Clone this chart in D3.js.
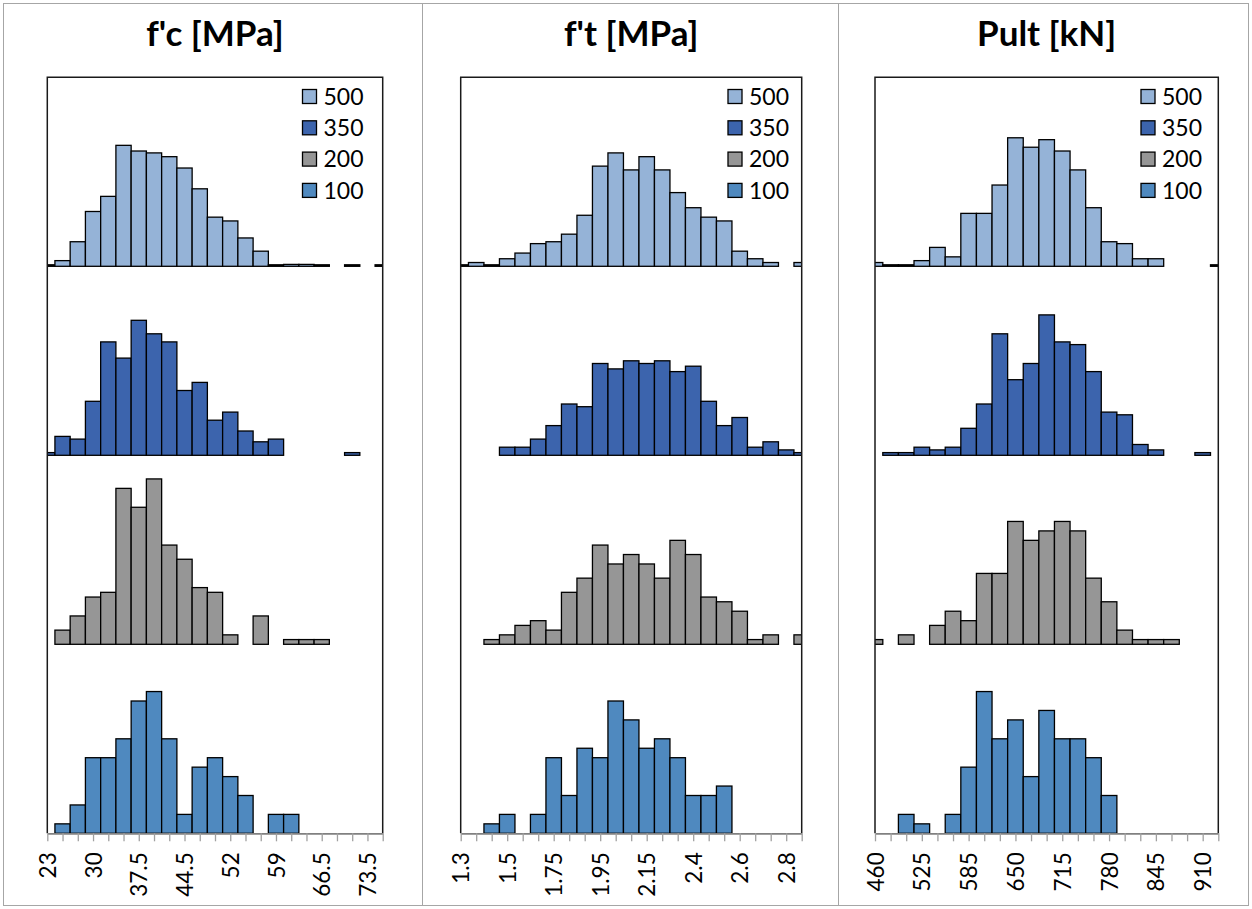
<!DOCTYPE html>
<html>
<head>
<meta charset="utf-8">
<script src="https://cdn.jsdelivr.net/npm/d3@7"></script>
<style>
  html, body { margin: 0; padding: 0; background: #fff; }
  svg { display: block; }
  text { font-family: Lato, "Open Sans", sans-serif; fill: #000; }
</style>
</head>
<body>
<svg id="chart" width="1252" height="909"></svg>
<script>
// Panel titles (one histogram panel per measured property)
const panelTitles = ["f'c [MPa]", "f't [MPa]", "Pult [kN]"];

// Sample sizes of the four simulated series (legend categories, top to bottom)
const sampleSizes = [500, 350, 200, 100];

// Bin labels shown on each x axis (every third bin edge)
const fcTickLabels = ["23", "30", "37.5", "44.5", "52", "59", "66.5", "73.5"];
const ftTickLabels = ["1.3", "1.5", "1.75", "1.95", "2.15", "2.4", "2.6", "2.8"];
const pultTickLabels = ["460", "525", "585", "650", "715", "780", "845", "910"];

// Counts per bin (23 bins, index 0..22); null = empty bin not drawn, 0 = drawn flat
const fc500 = [0, 3, 13, 29, 37, 64, 61, 60, 58, 52, 41, 26, 24, 15, 8, 0, 1, 1, 0, null, 0, null, 0];
const fc350 = [1, 7, 6, 20, 42, 36, 50, 45, 42, 24, 27, 13, 16, 9, 5, 6, null, null, null, null, 1, null, null];
const fc200 = [null, 3, 6, 10, 11, 33, 29, 35, 21, 18, 12, 11, 2, null, 6, null, 1, 1, 1, null, null, null, null];
const fc100 = [null, 1, 3, 8, 8, 10, 14, 15, 10, 2, 7, 8, 6, 4, null, 2, 2, null, null, null, null, null, null];

const ft500 = [0, 2, 0, 4, 7, 12, 13, 17, 27, 53, 60, 51, 58, 51, 39, 31, 26, 24, 8, 4, 2, null, 2];
const ft350 = [null, null, null, 3, 3, 6, 11, 19, 18, 34, 32, 35, 34, 35, 31, 33, 20, 11, 14, 3, 5, 2, 1];
const ft200 = [null, null, 1, 2, 4, 5, 3, 11, 14, 21, 17, 19, 17, 14, 22, 19, 10, 9, 7, 1, 2, null, 2];
const ft100 = [null, null, 1, 2, null, 2, 8, 4, 9, 8, 14, 12, 9, 10, 8, 4, 4, 5, null, null, null, null, null];

const pult500 = [2, 0, 0, 3, 10, 5, 28, 28, 43, 68, 63, 67, 61, 51, 31, 13, 12, 4, 4, null, null, null, 0];
const pult350 = [null, 1, 1, 3, 2, 3, 10, 19, 45, 28, 34, 52, 42, 41, 31, 16, 15, 4, 2, null, null, 1, null];
const pult200 = [1, null, 2, null, 4, 7, 5, 15, 15, 26, 22, 24, 26, 24, 14, 9, 3, 1, 1, 1, null, null, null];
const pult100 = [null, null, 2, 1, null, 2, 7, 15, 10, 12, 6, 13, 10, 10, 8, 4, null, null, null, null, null, null, null];

// Series colours, same order as sampleSizes
const seriesColors = ["#95b3d7", "#3c64ad", "#969696", "#4f89bf"];

const panels = [
  { title: panelTitles[0], ticks: fcTickLabels, series: [fc500, fc350, fc200, fc100] },
  { title: panelTitles[1], ticks: ftTickLabels, series: [ft500, ft350, ft200, ft100] },
  { title: panelTitles[2], ticks: pultTickLabels, series: [pult500, pult350, pult200, pult100] }
];

// Layout of each panel's plot frame
const frames = [
  { left: 47.3, right: 382.7, legendX: 302.5 },
  { left: 460.7, right: 801.7, legendX: 728 },
  { left: 875, right: 1218.3, legendX: 1141 }
];
const plotTop = 77.3, plotBottom = 833.3;
const nBins = 23;

const svg = d3.select("#chart");

// Outer border and panel separators
svg.append("rect")
  .attr("x", 3.5).attr("y", 3.5).attr("width", 1245).attr("height", 902)
  .attr("fill", "none").attr("stroke", "#a6a6a6").attr("stroke-width", 1);
[422.5, 838.5].forEach(x => {
  svg.append("line").attr("x1", x).attr("x2", x).attr("y1", 3.5).attr("y2", 905.5)
    .attr("stroke", "#a6a6a6").attr("stroke-width", 1);
});

const band = d3.scaleBand().domain(sampleSizes).range([plotTop, plotBottom]).paddingInner(0).paddingOuter(0);

panels.forEach((p, pi) => {
  const f = frames[pi];
  const g = svg.append("g");
  const x = d3.scaleLinear().domain([0, nBins - 1]).range([f.left, f.right]);
  const bw = x(1) - x(0);

  // Title
  g.append("text")
    .attr("x", (f.left + f.right) / 2).attr("y", 46)
    .attr("text-anchor", "middle")
    .style("font-size", "35px").style("font-weight", "bold")
    .text(p.title);

  const clipId = "clip" + pi;
  svg.append("clipPath").attr("id", clipId)
    .append("rect").attr("x", f.left).attr("y", plotTop - 2)
    .attr("width", f.right - f.left).attr("height", plotBottom - plotTop + 4);

  const bars = g.append("g").attr("clip-path", `url(#${clipId})`);

  sampleSizes.forEach((n, si) => {
    const base = band(n) + band.bandwidth();
    // relative frequency in percent, 20 % fills one band
    const y = d3.scaleLinear().domain([0, 20]).range([base, band(n)]);
    const data = p.series[si]
      .map((c, i) => ({ i, c }))
      .filter(d => d.c !== null);
    bars.append("g").selectAll("rect").data(data).join("rect")
      .attr("x", d => x(d.i - 0.5))
      .attr("width", bw)
      .attr("y", d => d.c === 0 ? base - 1.5 : y(d.c / n * 100))
      .attr("height", d => d.c === 0 ? 1.5 : base - y(d.c / n * 100))
      .attr("fill", d => d.c === 0 ? "#000" : seriesColors[si])
      .attr("stroke", "#000")
      .attr("stroke-width", 1.3);
  });

  // Frame: top, left, right edges
  g.append("path")
    .attr("d", `M${f.left},${plotBottom}V${plotTop}H${f.right}V${plotBottom}`)
    .attr("fill", "none").attr("stroke", "#1a1a1a").attr("stroke-width", 1.5);

  // Bottom axis with a tick at every bin edge, labels every third one
  const axis = d3.axisBottom(x)
    .tickValues(d3.range(0, nBins))
    .tickSize(8).tickSizeOuter(0)
    .tickFormat(i => i % 3 === 0 ? p.ticks[i / 3] : "");
  const ag = g.append("g").attr("transform", `translate(0,${plotBottom})`).call(axis);
  ag.select(".domain").attr("stroke", "#808080").attr("stroke-width", 1.8);
  ag.selectAll(".tick line").attr("stroke", "#a0a0a0").attr("stroke-width", 1.3);
  ag.selectAll(".tick text")
    .attr("transform", "rotate(-90)")
    .attr("text-anchor", "end")
    .attr("x", -19).attr("y", 0).attr("dy", "0.36em")
    .style("font-size", "22.5px").style("font-family", "Lato, 'Open Sans', sans-serif")
    .attr("fill", "#000");

  // Legend
  const lg = g.append("g");
  sampleSizes.forEach((n, si) => {
    const cy = 96.5 + si * 31.3;
    lg.append("rect")
      .attr("x", f.legendX).attr("y", cy - 7).attr("width", 14).attr("height", 14)
      .attr("fill", seriesColors[si]).attr("stroke", "#000").attr("stroke-width", 1.3);
    lg.append("text")
      .attr("x", f.legendX + 21).attr("y", cy).attr("dy", "0.36em")
      .style("font-size", "23px")
      .text(n);
  });
});
</script>
</body>
</html>
